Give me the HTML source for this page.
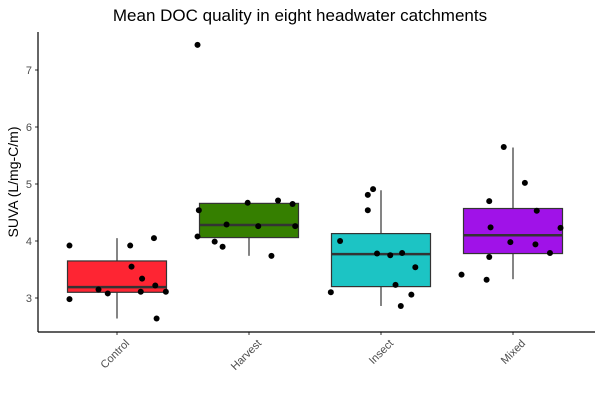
<!DOCTYPE html>
<html><head><meta charset="utf-8"><style>
body{margin:0;background:#fff}
svg{display:block;font-family:"Liberation Sans",Arial,sans-serif}
</style></head><body>
<svg id="c" width="600" height="400"></svg>
<script>
const categories=["Control","Harvest","Insect","Mixed"];
const colors=["#fe2533","#357f00","#1cc4c4","#a012e8"];
const boxLow=[2.64,3.74,2.86,3.33];
const boxQ1=[3.10,4.06,3.20,3.78];
const boxMedian=[3.19,4.28,3.77,4.10];
const boxQ3=[3.65,4.66,4.13,4.57];
const boxHigh=[4.05,4.71,4.89,5.64];
const pointsControl=[3.92,2.98,3.15,3.08,3.92,3.55,3.34,3.11,3.22,4.05,2.64,3.11];
const jitterControl=[-0.36,-0.36,-0.14,-0.07,0.10,0.11,0.19,0.18,0.29,0.28,0.30,0.37];
const pointsHarvest=[4.54,4.08,3.99,3.90,4.29,4.67,4.26,3.74,4.71,4.65,4.26,7.44];
const jitterHarvest=[-0.38,-0.39,-0.26,-0.20,-0.17,-0.01,0.07,0.17,0.22,0.33,0.35,-0.39];
const pointsInsect=[3.10,4.00,4.81,4.91,4.54,3.78,3.75,3.79,3.23,3.54,3.06,2.86];
const jitterInsect=[-0.38,-0.31,-0.10,-0.06,-0.10,-0.03,0.07,0.16,0.11,0.26,0.23,0.15];
const pointsMixed=[3.41,3.32,3.72,4.70,4.24,5.65,3.98,5.02,3.94,4.53,3.79,4.23];
const jitterMixed=[-0.39,-0.20,-0.18,-0.18,-0.17,-0.07,-0.02,0.09,0.17,0.18,0.28,0.36];
const yTicks=[3,4,5,6,7];
const allPoints=[pointsControl,pointsHarvest,pointsInsect,pointsMixed];
const allJitter=[jitterControl,jitterHarvest,jitterInsect,jitterMixed];

const NS="http://www.w3.org/2000/svg",svg=document.getElementById('c');
const L=38,R=595,T=32,B=332,step=132;
const xs=i=>117+i*step;
const ys=v=>298-(v-3)*57;
function el(tag,a,p){const e=document.createElementNS(NS,tag);for(const k in a)e.setAttribute(k,a[k]);(p||svg).appendChild(e);return e;}

let t=el('text',{x:300,y:21,'text-anchor':'middle','font-size':17,fill:'#000'});t.textContent="Mean DOC quality in eight headwater catchments";


t=el('text',{x:0,y:0,'text-anchor':'middle','font-size':14,fill:'#000',transform:'translate(18,182) rotate(-90)'});t.textContent="SUVA (L/mg-C/m)";



yTicks.forEach(v=>{
  const y=ys(v);
  const tk=el('line',{x1:L-3,x2:L,y1:y,y2:y,stroke:'#333','stroke-width':1});
  
  
  const tx=el('text',{x:L-6,y:y+4,'text-anchor':'end','font-size':11,fill:'#4d4d4d'});tx.textContent=v;
  
  
});

categories.forEach((c,i)=>{
  const x=xs(i),hw=0.375*step;
  const g=el('g',{});
  
  
  el('line',{x1:x,x2:x,y1:ys(boxHigh[i]),y2:ys(boxQ3[i]),stroke:'#333','stroke-width':1.2},g);
  el('line',{x1:x,x2:x,y1:ys(boxQ1[i]),y2:ys(boxLow[i]),stroke:'#333','stroke-width':1.2},g);
  el('rect',{x:x-hw,y:ys(boxQ3[i]),width:2*hw,height:ys(boxQ1[i])-ys(boxQ3[i]),fill:colors[i],stroke:'#333','stroke-width':1.2},g);
  el('line',{x1:x-hw,x2:x+hw,y1:ys(boxMedian[i]),y2:ys(boxMedian[i]),stroke:'#333','stroke-width':2.5},g);
  allPoints[i].forEach((v,j)=>{
    const p=el('circle',{cx:x+allJitter[i][j]*step,cy:ys(v),r:3,fill:'#000'});
    
    
  });
  const tk=el('line',{x1:x,x2:x,y1:B,y2:B+3,stroke:'#333','stroke-width':1});
  
  
  const tx=el('text',{x:0,y:0,'text-anchor':'end','font-size':11,fill:'#4d4d4d',transform:`translate(${x+13},${B+12}) rotate(-45)`});tx.textContent=c;
  
  
});

const ya=el('line',{x1:L,x2:L,y1:T,y2:B,stroke:'#000','stroke-width':1.2});


const xa=el('line',{x1:L,x2:R,y1:B,y2:B,stroke:'#000','stroke-width':1.2});


</script>
</body></html>
